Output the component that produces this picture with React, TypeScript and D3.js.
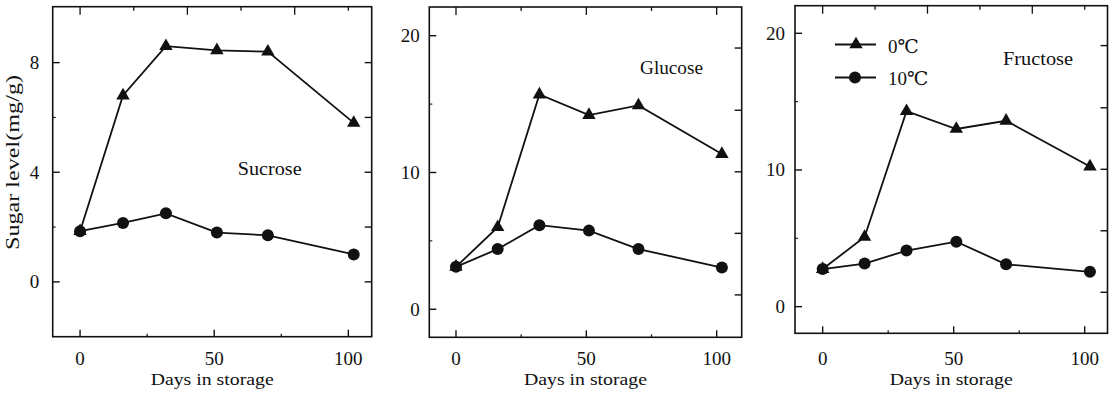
import React from "react";
import * as d3 from "d3";

// ---- data ----
const days = [0, 16, 32, 51, 70, 102];
const sucrose0 = [1.85, 6.8, 8.6, 8.45, 8.4, 5.8];
const sucrose10 = [1.85, 2.15, 2.5, 1.8, 1.7, 1.0];
const glucose0 = [3.1, 6.0, 15.7, 14.2, 14.9, 11.35];
const glucose10 = [3.1, 4.4, 6.15, 5.75, 4.4, 3.05];
const fructose0 = [2.75, 5.1, 14.3, 13.0, 13.6, 10.25];
const fructose10 = [2.75, 3.15, 4.1, 4.75, 3.1, 2.55];

const panelNames = ["Sucrose", "Glucose", "Fructose"];
const seriesNames = ["0℃", "10℃"];
const xTickLabels = [0, 50, 100];
const xMinorTicks = [25, 75];
const topTicks20 = [0, 20, 40, 60, 80, 100];
const topTicks25 = [0, 25, 50, 75, 100];
const yLabels1 = [0, 4, 8];
const yMinor1 = [2, 6];
const yRight1 = [0, 2, 4, 6, 8];
const yLabels2 = [0, 10, 20];
const yMinor2 = [5, 15];
const yRight2 = [1.05, 5.55, 10.05, 14.55, 19.1];
const xLabel = "Days in storage";
const yTitle = "Sugar level(mg/g)";

const FONT = "'Liberation Serif', 'DejaVu Serif', serif";

type Panel = {
  name: string;
  s0: number[];
  s10: number[];
  frame: { l: number; r: number; t: number; b: number };
  xDom: [number, number];
  yDom: [number, number];
  yLabels: number[];
  yMinor: number[];
  yRight: number[];
  topTicks: number[];
  topMajorEvery: number;
  labelGap: number;
  nameX: number;
  nameY: number;
  nameLen: number;
  legend?: boolean;
};

const panels: Panel[] = [
  {
    name: panelNames[0], s0: sucrose0, s10: sucrose10,
    frame: { l: 52.7, r: 371.7, t: 6.7, b: 336.7 },
    xDom: [-10.2, 108.7], yDom: [-2.0, 10.04],
    yLabels: yLabels1, yMinor: yMinor1, yRight: yRight1,
    topTicks: topTicks20, topMajorEvery: 40, labelGap: 13.5,
    nameX: 237.7, nameY: 175, nameLen: 64,
  },
  {
    name: panelNames[1], s0: glucose0, s10: glucose10,
    frame: { l: 429.3, r: 741.7, t: 7, b: 337.3 },
    xDom: [-10.24, 109.6], yDom: [-2.05, 22.1],
    yLabels: yLabels2, yMinor: yMinor2, yRight: yRight2,
    topTicks: topTicks25, topMajorEvery: 50, labelGap: 9.5,
    nameX: 640, nameY: 74, nameLen: 63,
  },
  {
    name: panelNames[2], s0: fructose0, s10: fructose10,
    frame: { l: 795, r: 1107.5, t: 5.7, b: 333.3 },
    xDom: [-10.56, 108.7], yDom: [-1.95, 22.02],
    yLabels: yLabels2, yMinor: yMinor2, yRight: yRight2,
    topTicks: topTicks20, topMajorEvery: 40, labelGap: 10,
    nameX: 1003, nameY: 65, nameLen: 70,
    legend: true,
  },
];

const triPath = d3.symbol(d3.symbolTriangle, 78)()!;
const circR = 6;

function PanelView({ p }: { p: Panel }) {
  const { l, r, t, b } = p.frame;
  const x = d3.scaleLinear().domain(p.xDom).range([l, r]);
  const y = d3.scaleLinear().domain(p.yDom).range([b, t]);
  const line = d3
    .line<number>()
    .x((_, i) => x(days[i]))
    .y((v) => y(v));
  const stroke = "#111";
  return (
    <g>
      <rect x={l} y={t} width={r - l} height={b - t} fill="none" stroke={stroke} strokeWidth={1.6} />
      {/* bottom ticks */}
      {xTickLabels.map((d) => (
        <line key={"bm" + d} x1={x(d)} x2={x(d)} y1={b} y2={b - 7} stroke={stroke} strokeWidth={1.4} />
      ))}
      {xMinorTicks.map((d) => (
        <line key={"bn" + d} x1={x(d)} x2={x(d)} y1={b} y2={b - 3} stroke={stroke} strokeWidth={1.2} />
      ))}
      {/* top ticks */}
      {p.topTicks.map((d) => (
        <line key={"t" + d} x1={x(d)} x2={x(d)} y1={t} y2={t + (d % p.topMajorEvery === 0 ? 8 : 4)} stroke={stroke} strokeWidth={1.3} />
      ))}
      {/* left ticks */}
      {p.yLabels.map((v) => (
        <line key={"l" + v} x1={l} x2={l + 7} y1={y(v)} y2={y(v)} stroke={stroke} strokeWidth={1.4} />
      ))}
      {p.yMinor.map((v) => (
        <line key={"lm" + v} x1={l} x2={l + 3} y1={y(v)} y2={y(v)} stroke={stroke} strokeWidth={1.1} />
      ))}
      {/* right ticks */}
      {p.yRight.map((v) => (
        <line key={"r" + v} x1={r} x2={r - 7} y1={y(v)} y2={y(v)} stroke={stroke} strokeWidth={1.4} />
      ))}
      {/* y tick labels */}
      {p.yLabels.map((v) => (
        <text key={"yl" + v} x={l - p.labelGap} y={y(v) + 6.5} textAnchor="end" fontSize={19} fontFamily={FONT} fill="#111">
          {v}
        </text>
      ))}
      {/* x tick labels */}
      {xTickLabels.map((d) => (
        <text key={"xl" + d} x={x(d)} y={364.5} textAnchor="middle" fontSize={19} fontFamily={FONT} fill="#111">
          {d}
        </text>
      ))}
      <text x={(l + r) / 2} y={385} textAnchor="middle" fontSize={17} fontFamily={FONT} fill="#111" textLength={123} lengthAdjust="spacingAndGlyphs">
        {xLabel}
      </text>
      {/* series lines */}
      <path d={line(p.s0) || ""} fill="none" stroke={stroke} strokeWidth={1.8} />
      <path d={line(p.s10) || ""} fill="none" stroke={stroke} strokeWidth={1.8} />
      {p.s10.map((v, i) => (
        <circle key={"c" + i} cx={x(days[i])} cy={y(v)} r={circR} fill="#111" />
      ))}
      {p.s0.map((v, i) => (
        <path key={"tr" + i} d={triPath} transform={`translate(${x(days[i])},${y(v)})`} fill="#111" />
      ))}
      <text x={p.nameX} y={p.nameY} fontSize={19} fontFamily={FONT} fill="#111" textLength={p.nameLen} lengthAdjust="spacingAndGlyphs">
        {p.name}
      </text>
      {p.legend && (
        <g>
          <line x1={835} x2={876} y1={44.5} y2={44.5} stroke={stroke} strokeWidth={1.8} />
          <path d={triPath} transform={`translate(856,44.5)`} fill="#111" />
          <text x={888} y={53} fontSize={19} fontFamily={FONT} fill="#111">{seriesNames[0]}</text>
          <line x1={835} x2={876} y1={77.5} y2={77.5} stroke={stroke} strokeWidth={1.8} />
          <circle cx={855} cy={77.5} r={circR} fill="#111" />
          <text x={888} y={85} fontSize={19} fontFamily={FONT} fill="#111">{seriesNames[1]}</text>
        </g>
      )}
    </g>
  );
}

export default function App() {
  return (
    <svg width={1114} height={393} style={{ position: "absolute", left: 0, top: 0, background: "#fff" }}>
      <rect x={0} y={0} width={1114} height={393} fill="#fff" />
      {panels.map((p) => (
        <PanelView key={p.name} p={p} />
      ))}
      <text
        transform={`translate(19,162.5) rotate(-90)`}
        textAnchor="middle"
        fontSize={18}
        fontFamily={FONT}
        fill="#111"
        textLength={175}
        lengthAdjust="spacingAndGlyphs"
      >
        {yTitle}
      </text>
    </svg>
  );
}
